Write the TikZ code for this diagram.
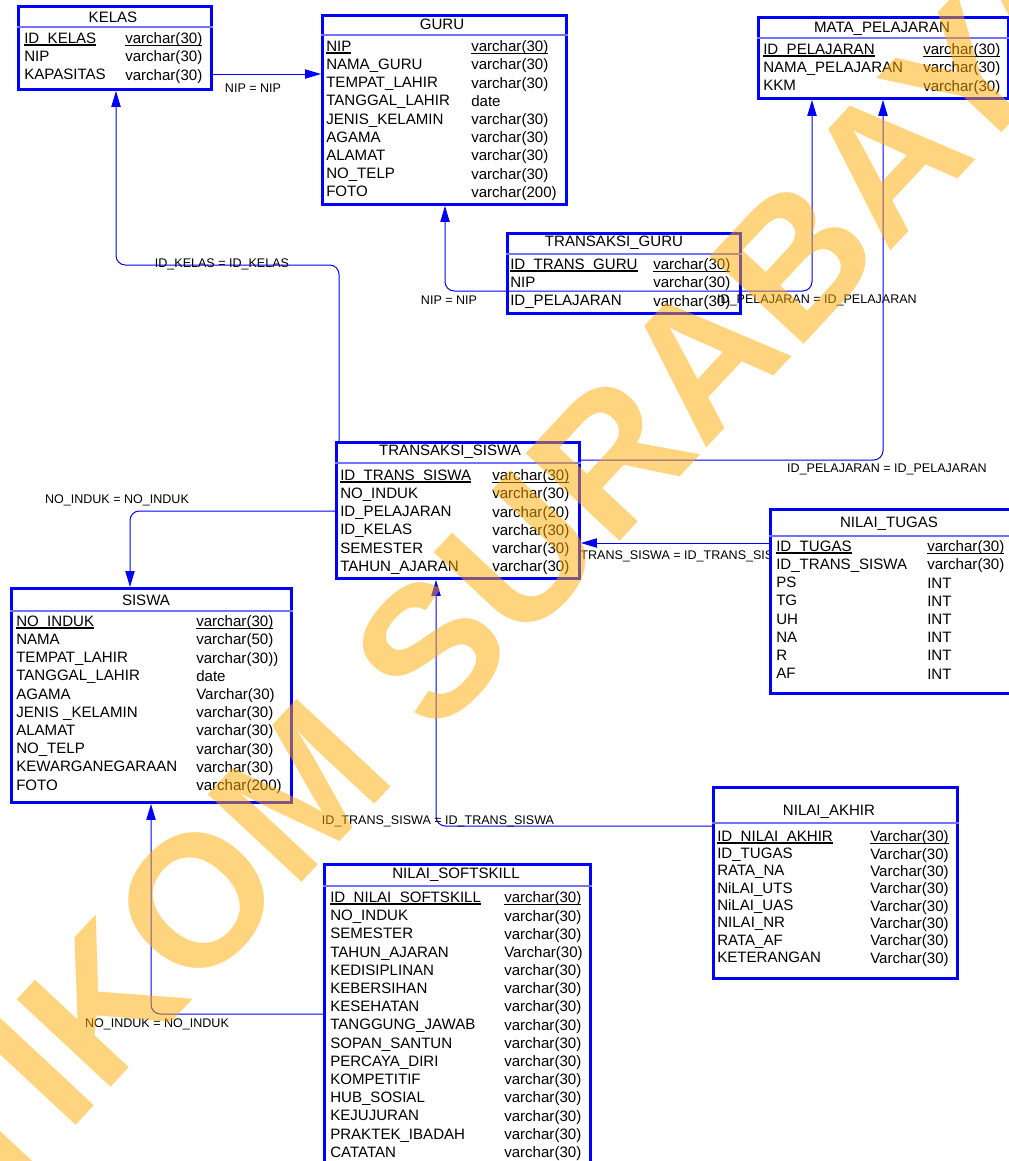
\documentclass[tikz,border=0pt]{standalone}
\usepackage{fontspec}
\setmainfont{Liberation Sans}
\usepackage{tikz}
\usetikzlibrary{arrows.meta}

\definecolor{erblue}{RGB}{0,0,255}
\definecolor{wmorange}{RGB}{255,170,0}

% primary key: text with a thick underline just under the baseline
\newcommand{\pkey}[1]{\setbox0=\hbox{#1}\rlap{\rule[-1.9pt]{\wd0}{1.1pt}}\box0}

\tikzset{
  tbl/.style={draw=erblue, line width=2.2pt, fill=white, anchor=north west, inner sep=0},
  ttl/.style={font=\fontsize{11.3}{13.65}\selectfont, inner sep=0},
  fld/.style={font=\fontsize{11.3}{13.65}\selectfont, align=left, anchor=north west, inner sep=0},
  hdr/.style={draw=erblue!55, line width=0.8pt},
  fk/.style={draw=erblue, line width=0.75pt, rounded corners=7pt, -{Triangle[length=12pt,width=7pt]}},
  rel/.style={font=\fontsize{9.4}{11}\selectfont, inner sep=0},
}

\begin{document}
\begin{tikzpicture}[x=0.75pt, y=-0.75pt]
        \useasboundingbox (0,0) rectangle (1008,1161);

        % label that sits under the tables
        \node[rel] (relNtTs) at (677,556) {ID\_TRANS\_SISWA = ID\_TRANS\_SISWA};

        % tables
        \node[tbl, minimum width=144.75pt, minimum height=62.25pt] (kelas) at (17,5) {};
        \node[ttl] (kelasT) at (113,17) {KELAS};
        \draw[hdr] (kelas.west |- 0,27) -- (kelas.east |- 0,27);
        \node[fld] (kelasA) at (24,32.6) {\pkey{ID\_KELAS}\\NIP\\KAPASITAS};
        \node[fld] (kelasB) at (125,32.6) {\pkey{varchar(30)}\\varchar(30)\\varchar(30)};

        \node[tbl, minimum width=183pt, minimum height=141.75pt] (guru) at (321,14) {};
        \node[ttl] (guruT) at (442,24) {GURU};
        \draw[hdr] (guru.west |- 0,35) -- (guru.east |- 0,35);
        \node[fld] (guruA) at (326,40.6) {\pkey{NIP}\\NAMA\_GURU\\TEMPAT\_LAHIR\\TANGGAL\_LAHIR\\JENIS\_KELAMIN\\AGAMA\\ALAMAT\\NO\_TELP\\FOTO};
        \node[fld] (guruB) at (471,40.6) {\pkey{varchar(30)}\\varchar(30)\\varchar(30)\\date\\varchar(30)\\varchar(30)\\varchar(30)\\varchar(30)\\varchar(200)};

        \node[tbl, minimum width=187.5pt, minimum height=60.75pt] (mapel) at (757,16) {};
        \node[ttl] (mapelT) at (882,29) {MATA\_PELAJARAN};
        \draw[hdr] (mapel.west |- 0,38) -- (mapel.east |- 0,38);
        \node[fld] (mapelA) at (763,43.6) {\pkey{ID\_PELAJARAN}\\NAMA\_PELAJARAN\\KKM};
        \node[fld] (mapelB) at (923,43.6) {\pkey{varchar(30)}\\varchar(30)\\varchar(30)};

        \node[tbl, minimum width=174.75pt, minimum height=60pt] (tguru) at (506,232) {};
        \node[ttl] (tguruT) at (614,243) {TRANSAKSI\_GURU};
        \draw[hdr] (tguru.west |- 0,254) -- (tguru.east |- 0,254);
        \node[fld] (tguruA) at (510,258.6) {\pkey{ID\_TRANS\_GURU}\\NIP\\ID\_PELAJARAN};
        \node[fld] (tguruB) at (653,258.6) {\pkey{varchar(30)}\\varchar(30)\\varchar(30)};

        \node[tbl, minimum width=182.25pt, minimum height=102pt] (tsiswa) at (335,441) {};
        \node[ttl] (tsiswaT) at (450,452) {TRANSAKSI\_SISWA};
        \draw[hdr] (tsiswa.west |- 0,463) -- (tsiswa.east |- 0,463);
        \node[fld] (tsiswaA) at (340,469.6) {\pkey{ID\_TRANS\_SISWA}\\NO\_INDUK\\ID\_PELAJARAN\\ID\_KELAS\\SEMESTER\\TAHUN\_AJARAN};
        \node[fld] (tsiswaB) at (492,469.6) {\pkey{varchar(30)}\\varchar(30)\\varchar(20)\\varchar(30)\\varchar(30)\\varchar(30)};

        \node[tbl, minimum width=180.75pt, minimum height=138pt] (tugas) at (769,508) {};
        \node[ttl] (tugasT) at (889,524) {NILAI\_TUGAS};
        \draw[hdr] (tugas.west |- 0,536) -- (tugas.east |- 0,536);
        \node[fld] (tugasA) at (776,540.6) {\pkey{ID\_TUGAS}\\ID\_TRANS\_SISWA\\PS\\TG\\UH\\NA\\R\\AF};
        \node[fld] (tugasB) at (927,540.6) {\pkey{varchar(30)}\\varchar(30)\\INT\\INT\\INT\\INT\\INT\\INT};

        \node[tbl, minimum width=210pt, minimum height=160.5pt] (siswa) at (10,587) {};
        \node[ttl] (siswaT) at (146,600) {SISWA};
        \draw[hdr] (siswa.west |- 0,611) -- (siswa.east |- 0,611);
        \node[fld] (siswaA) at (16,615.6) {\pkey{NO\_INDUK}\\NAMA\\TEMPAT\_LAHIR\\TANGGAL\_LAHIR\\AGAMA\\JENIS \_KELAMIN\\ALAMAT\\NO\_TELP\\KEWARGANEGARAAN\\FOTO};
        \node[fld] (siswaB) at (196,615.6) {\pkey{varchar(30)}\\varchar(50)\\varchar(30))\\date\\Varchar(30)\\varchar(30)\\varchar(30)\\varchar(30)\\varchar(30)\\varchar(200)};

        \node[tbl, minimum width=183pt, minimum height=143.25pt] (akhir) at (712,786) {};
        \node[ttl] (akhirT) at (829,812) {NILAI\_AKHIR};
        \draw[hdr] (akhir.west |- 0,823) -- (akhir.east |- 0,823);
        \node[fld, font=\fontsize{11.3}{13}\selectfont] (akhirA) at (717,830.6) {\pkey{ID\_NILAI\_AKHIR}\\ID\_TUGAS\\RATA\_NA\\NiLAI\_UTS\\NiLAI\_UAS\\NILAI\_NR\\RATA\_AF\\KETERANGAN};
        \node[fld, font=\fontsize{11.3}{13}\selectfont] (akhirB) at (870,830.6) {\pkey{Varchar(30)}\\Varchar(30)\\Varchar(30)\\Varchar(30)\\Varchar(30)\\Varchar(30)\\Varchar(30)\\Varchar(30)};

        \node[tbl, minimum width=199.5pt, minimum height=225pt] (soft) at (323,863) {};
        \node[ttl] (softT) at (456,875) {NILAI\_SOFTSKILL};
        \draw[hdr] (soft.west |- 0,886) -- (soft.east |- 0,886);
        \node[fld] (softA) at (330,891.6) {\pkey{ID\_NILAI\_SOFTSKILL}\\NO\_INDUK\\SEMESTER\\TAHUN\_AJARAN\\KEDISIPLINAN\\KEBERSIHAN\\KESEHATAN\\TANGGUNG\_JAWAB\\SOPAN\_SANTUN\\PERCAYA\_DIRI\\KOMPETITIF\\HUB\_SOSIAL\\KEJUJURAN\\PRAKTEK\_IBADAH\\CATATAN};
        \node[fld] (softB) at (504,891.6) {\pkey{varchar(30)}\\varchar(30)\\varchar(30)\\Varchar(30)\\varchar(30)\\varchar(30)\\varchar(30)\\varchar(30)\\varchar(30)\\varchar(30)\\varchar(30)\\varchar(30)\\varchar(30)\\varchar(30)\\varchar(30)};

        % references
        \draw[fk] (kelas.east |- 0,74) -- (guru.west |- 0,74);
        \node[rel] (relKelasGuru) at (253,88) {NIP = NIP};

        \draw[fk] (tsiswa.north -| 339,0) -- (339,265) -- (116,265) -- (kelas.south -| 116,0);
        \node[rel] (relTsKelas) at (222,264) {ID\_KELAS = ID\_KELAS};

        \draw[fk] (tguru.center |- 0,291) -- (445,291) -- (guru.south -| 445,0);
        \node[rel] (relTgGuru) at (449,300) {NIP = NIP};

        \draw[fk] (tguru.center |- 0,291) -- (812,291) -- (mapel.south -| 812,0);
        \node[rel] (relTgMapel) at (817,300) {ID\_PELAJARAN = ID\_PELAJARAN};

        \draw[fk] (tsiswa.east |- 0,460) -- (883,460) -- (mapel.south -| 883,0);
        \node[rel] (relTsMapel) at (887,469) {ID\_PELAJARAN = ID\_PELAJARAN};

        \draw[fk] (tsiswa.west |- 0,511) -- (130,511) -- (siswa.north -| 130,0);
        \node[rel] (relTsSiswa) at (117,500) {NO\_INDUK = NO\_INDUK};

        \draw[fk] (tugas.west |- 0,543) -- (tsiswa.east |- 0,543);

        \draw[fk] (akhir.west |- 0,826) -- (436,826) -- (tsiswa.south -| 436,0);
        \node[rel] (relNaTs) at (438,821) {ID\_TRANS\_SISWA = ID\_TRANS\_SISWA};

        \draw[fk] (soft.west |- 0,1014) -- (151,1014) -- (siswa.south -| 151,0);
        \node[rel] (relSoftSiswa) at (157,1024) {NO\_INDUK = NO\_INDUK};

        % watermark
        \node[rotate=47, text=wmorange, text opacity=0.5, inner sep=0, font=\fontsize{140}{140}\selectfont\bfseries] (wmark) at (472,606) {STIKOM SURABAYA};
\end{tikzpicture}
\end{document}
